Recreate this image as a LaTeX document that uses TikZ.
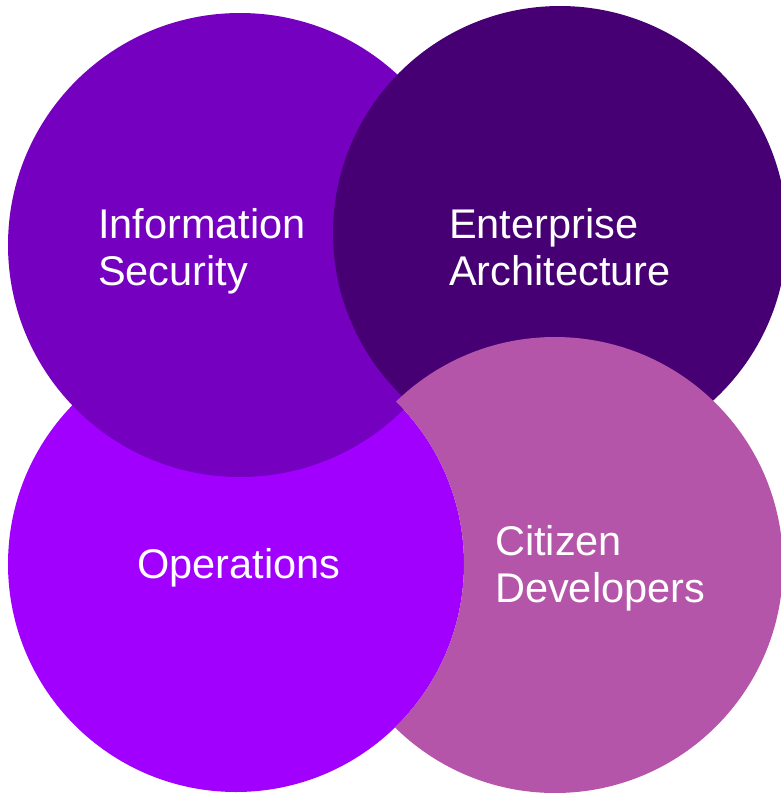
\documentclass[tikz,border=0pt]{standalone}
\usepackage{fontspec}
\setmainfont{Liberation Sans}
\definecolor{infocol}{HTML}{7500C0}
\definecolor{entcol}{HTML}{460073}
\definecolor{opscol}{HTML}{A100FF}
\definecolor{citcol}{HTML}{B455AA}
\tikzset{
  bubble/.style={fill=#1, draw=none},
  lbl/.style={text=white, font=\fontsize{41.5}{47}\selectfont, align=left, inner sep=0pt, anchor=base west}
}
\begin{document}
\begin{tikzpicture}[x=1pt, y=-1pt]
\useasboundingbox (0,0) rectangle (780,793);
% circles
\path[bubble=opscol] (236,564) circle[radius=228pt];
\path[bubble=infocol] (240,245) circle[radius=232pt];
\path[bubble=entcol] (560,233) circle[radius=227pt];
\begin{scope}[even odd rule]
  \clip (-10,-10) rectangle (800,810) (236,564) circle[radius=228pt];
  \path[bubble=citcol] (555,565) circle[radius=228pt];
\end{scope}
% labels (anchor = baseline of last line)
\node[lbl] (infosec) at (98,285) {Information\\Security};
\node[lbl] (entarch) at (449,285) {Enterprise\\Architecture};
\node[lbl] (ops) at (137,578) {Operations};
\node[lbl] (citdev) at (495,602) {Citizen\\Developers};
\end{tikzpicture}
\end{document}
